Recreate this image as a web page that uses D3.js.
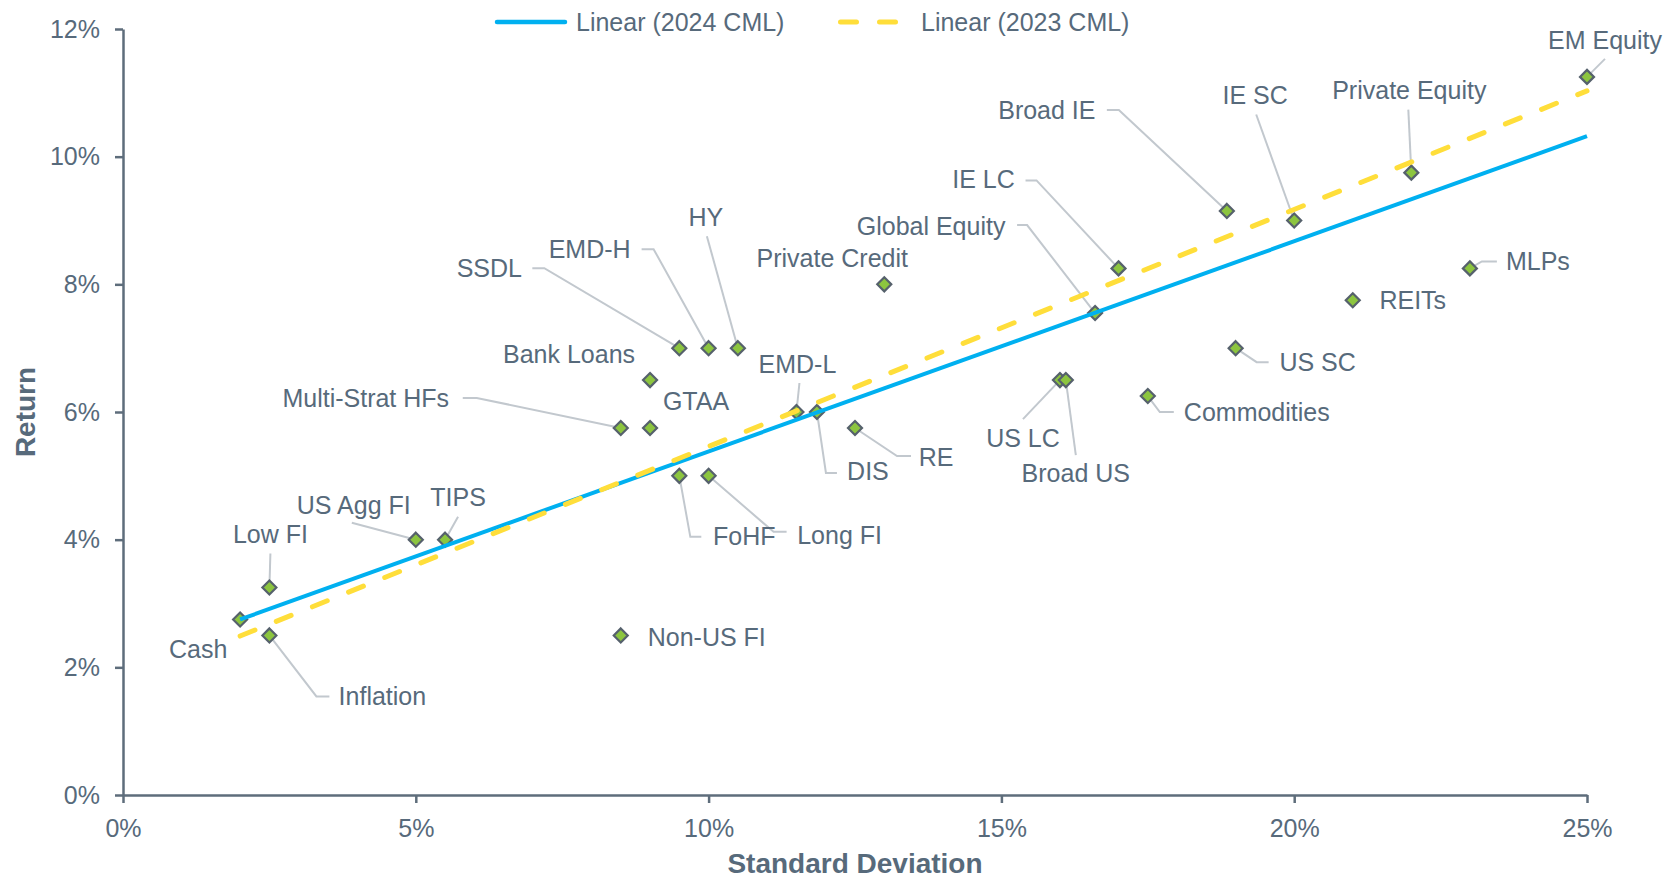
<!DOCTYPE html>
<html>
<head>
<meta charset="utf-8">
<script src="https://cdn.jsdelivr.net/npm/d3@7"></script>
<style>
  html, body { margin: 0; padding: 0; background: #ffffff; }
  svg { display: block; font-family: "Liberation Sans", Arial, sans-serif; }
</style>
</head>
<body>
<svg id="chart" width="1676" height="879"></svg>
<script>
// Asset classes: expected standard deviation (%) and expected return (%)
const assetNames = [
  "Cash", "Low FI", "Inflation", "US Agg FI", "TIPS", "Non-US FI",
  "Multi-Strat HFs", "GTAA", "Bank Loans", "SSDL", "EMD-H", "HY",
  "FoHF", "Long FI", "EMD-L", "DIS", "RE", "Private Credit",
  "US LC", "Broad US", "Global Equity", "IE LC", "Commodities",
  "Broad IE", "US SC", "IE SC", "REITs", "Private Equity", "MLPs", "EM Equity"
];
const stdDev = [
  2.0, 2.5, 2.5, 5.0, 5.5, 8.5,
  8.5, 9.0, 9.0, 9.5, 10.0, 10.5,
  9.5, 10.0, 11.5, 11.85, 12.5, 13.0,
  16.0, 16.1, 16.6, 17.0, 17.5,
  18.85, 19.0, 20.0, 21.0, 22.0, 23.0, 25.0
];
const expReturn = [
  2.75, 3.25, 2.5, 4.0, 4.0, 2.5,
  5.75, 5.75, 6.5, 7.0, 7.0, 7.0,
  5.0, 5.0, 6.0, 6.0, 5.75, 8.0,
  6.5, 6.5, 7.55, 8.25, 6.25,
  9.15, 7.0, 9.0, 7.75, 9.75, 8.25, 11.25
];

// Linear trendlines (capital market lines), as end points [std dev, return]
const cml2024 = [[2.0, 2.75], [25.0, 10.32]];
const cml2023 = [[2.0, 2.49], [25.0, 11.03]];
const legendNames = ["Linear (2024 CML)", "Linear (2023 CML)"];

// Axis ticks
const xTicks = [0, 5, 10, 15, 20, 25];
const yTicks = [0, 2, 4, 6, 8, 10, 12];

// Data-label placement: text centre offset (px) from the marker, and an
// optional leader polyline given as offsets from the marker
const labelLayout = {
  "Cash":            { t: [-42, 30] },
  "Low FI":          { t: [1, -53],     lead: [[1, -34]] },
  "Inflation":       { t: [113, 61],    lead: [[60, 61], [47, 61]] },
  "US Agg FI":       { t: [-62, -34],   lead: [[-64, -17]] },
  "TIPS":            { t: [13, -42],    lead: [[13, -23]] },
  "Non-US FI":       { t: [86, 2] },
  "Multi-Strat HFs": { t: [-255, -30],  lead: [[-158, -30], [-144, -30]] },
  "GTAA":            { t: [46, -27] },
  "Bank Loans":      { t: [-81, -26] },
  "SSDL":            { t: [-190, -80],  lead: [[-147, -80], [-135, -80]] },
  "EMD-H":           { t: [-119, -99],  lead: [[-67, -99], [-55, -99]] },
  "HY":              { t: [-32, -131],  lead: [[-31, -112]] },
  "FoHF":            { t: [65, 60],     lead: [[22, 61], [11, 61]] },
  "Long FI":         { t: [131, 59],    lead: [[78, 56], [65, 56]] },
  "EMD-L":           { t: [1, -48],     lead: [[3, -29]] },
  "DIS":             { t: [51, 59],     lead: [[20, 61], [9, 61]] },
  "RE":              { t: [81, 29],     lead: [[56, 28], [42, 28]] },
  "Private Credit":  { t: [-52, -26] },
  "US LC":           { t: [-37, 58],    lead: [[-37, 39]] },
  "Broad US":        { t: [10, 93],     lead: [[10, 75]] },
  "Global Equity":   { t: [-164, -87],  lead: [[-78, -88], [-68, -88]] },
  "IE LC":           { t: [-135, -89],  lead: [[-93, -88], [-82, -88]] },
  "Commodities":     { t: [109, 16],    lead: [[26, 16], [12, 16]] },
  "Broad IE":        { t: [-180, -101], lead: [[-120, -101], [-108, -101]] },
  "US SC":           { t: [82, 14],     lead: [[33, 14], [21, 14]] },
  "IE SC":           { t: [-39, -125],  lead: [[-38, -106]] },
  "REITs":           { t: [60, 0] },
  "Private Equity":  { t: [-2, -82],    lead: [[-3, -63]] },
  "MLPs":            { t: [68, -7],     lead: [[27, -7], [12, -7]] },
  "EM Equity":       { t: [18, -37],    lead: [[18, -18]] }
};

const TEXT = "#576a7b";
const AXIS = "#5e6d7b";
const LEADER = "#c2c8ce";
const BLUE = "#00b0f0";
const YELLOW = "#ffde3a";
const FILL = "#8cc53f";
const EDGE = "#56616c";

const svg = d3.select("#chart");
const plot = { left: 123, right: 1587, top: 29, bottom: 795 };

const x = d3.scaleLinear().domain([0, 25]).range([plot.left, plot.right]);
const y = d3.scaleLinear().domain([0, 12]).range([plot.bottom, plot.top]);

const points = assetNames.map((name, i) => ({ name, sd: stdDev[i], ret: expReturn[i] }));

// Axes
const yAxis = svg.append("g")
  .attr("transform", `translate(${plot.left},0)`)
  .call(d3.axisLeft(y).tickValues(yTicks).tickFormat(d => d + "%")
    .tickSize(8).tickSizeOuter(0).tickPadding(15));
const xAxis = svg.append("g")
  .attr("transform", `translate(0,${plot.bottom})`)
  .call(d3.axisBottom(x).tickValues(xTicks).tickFormat(d => d + "%")
    .tickSize(8).tickSizeOuter(0).tickPadding(16));
[xAxis, yAxis].forEach(g => {
  g.select(".domain").attr("stroke", AXIS).attr("stroke-width", 2.5);
  g.selectAll(".tick line").attr("stroke", AXIS).attr("stroke-width", 2.5);
  g.selectAll(".tick text").attr("fill", TEXT).attr("font-size", 25)
    .attr("font-family", "Liberation Sans, Arial, sans-serif");
});

// Axis titles
svg.append("text")
  .attr("x", (plot.left + plot.right) / 2).attr("y", 863)
  .attr("text-anchor", "middle").attr("dy", "0.35em")
  .attr("font-size", 28).attr("font-weight", "bold").attr("fill", TEXT)
  .text("Standard Deviation");
svg.append("text")
  .attr("transform", `translate(25,${(plot.top + plot.bottom) / 2}) rotate(-90)`)
  .attr("text-anchor", "middle").attr("dy", "0.35em")
  .attr("font-size", 28).attr("font-weight", "bold").attr("fill", TEXT)
  .text("Return");

// Leader lines
const leaders = svg.append("g");
points.forEach(p => {
  const lay = labelLayout[p.name];
  if (!lay || !lay.lead) return;
  const px = x(p.sd), py = y(p.ret);
  const pts = lay.lead.map(o => [px + o[0], py + o[1]]).concat([[px, py]]);
  leaders.append("path")
    .attr("d", d3.line()(pts))
    .attr("fill", "none").attr("stroke", LEADER).attr("stroke-width", 2);
});

// Markers (diamonds)
const diamond = r => `M0,${-r}L${r},0L0,${r}L${-r},0Z`;
svg.append("g").selectAll("path")
  .data(points).join("path")
  .attr("transform", d => `translate(${x(d.sd)},${y(d.ret)})`)
  .attr("d", diamond(7))
  .attr("fill", FILL).attr("stroke", EDGE).attr("stroke-width", 2.2);

// Trendlines
const line = d3.line().x(d => x(d[0])).y(d => y(d[1]));
svg.append("path").datum(cml2024).attr("d", line)
  .attr("fill", "none").attr("stroke", BLUE).attr("stroke-width", 4);
svg.append("path").datum(cml2023).attr("d", line)
  .attr("fill", "none").attr("stroke", YELLOW).attr("stroke-width", 5)
  .attr("stroke-dasharray", "16,23").attr("stroke-linecap", "round");

// Data labels
svg.append("g").selectAll("text")
  .data(points).join("text")
  .attr("x", d => x(d.sd) + labelLayout[d.name].t[0])
  .attr("y", d => y(d.ret) + labelLayout[d.name].t[1])
  .attr("text-anchor", "middle").attr("dy", "0.35em")
  .attr("font-size", 25).attr("fill", TEXT)
  .text(d => d.name);

// Legend
const legend = svg.append("g");
legend.append("line").attr("x1", 497).attr("x2", 565).attr("y1", 22).attr("y2", 22)
  .attr("stroke", BLUE).attr("stroke-width", 4.5).attr("stroke-linecap", "round");
legend.append("text").attr("x", 576).attr("y", 22).attr("dy", "0.35em")
  .attr("font-size", 25).attr("fill", TEXT).text(legendNames[0]);
legend.append("line").attr("x1", 840.5).attr("x2", 896).attr("y1", 22).attr("y2", 22)
  .attr("stroke", YELLOW).attr("stroke-width", 5).attr("stroke-linecap", "round")
  .attr("stroke-dasharray", "16,23");
legend.append("text").attr("x", 921).attr("y", 22).attr("dy", "0.35em")
  .attr("font-size", 25).attr("fill", TEXT).text(legendNames[1]);
</script>
</body>
</html>
